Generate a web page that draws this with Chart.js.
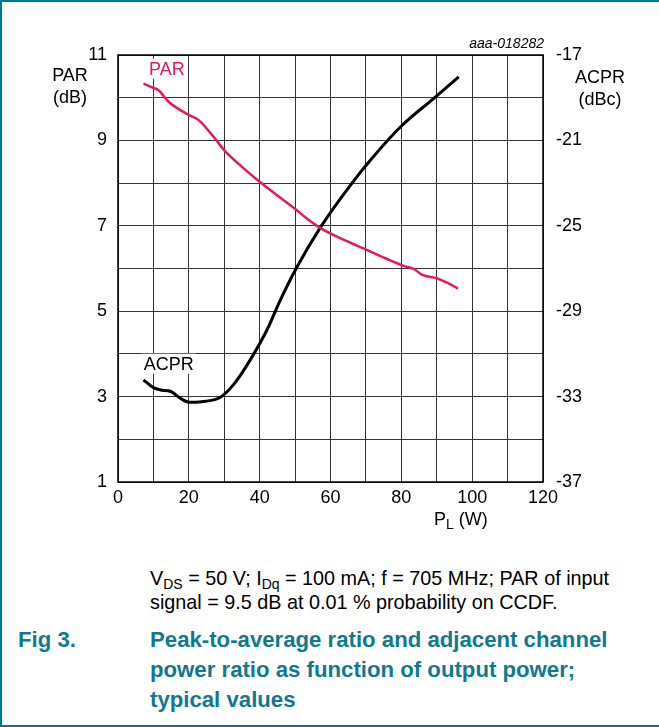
<!DOCTYPE html>
<html>
<head>
<meta charset="utf-8">
<script src="https://cdn.jsdelivr.net/npm/chart.js@4.4.1/dist/chart.umd.min.js"></script>
<style>
  html, body { margin: 0; padding: 0; background: #fff; }
  #frame {
    position: relative; width: 657px; height: 723px;
    border-top: 2px solid #00798f; border-left: 2px solid #00798f; border-bottom: 2px solid #00798f;
    font-family: "Liberation Sans", Arial, sans-serif; color: #000; overflow: hidden;
  }
  #wrap { position: absolute; left: -2px; top: -2px; width: 659px; height: 545px; }
  .t { position: absolute; white-space: nowrap; }
  .ax { font-size: 18px; text-align: center; line-height: 22px; }
  .cap { font-size: 19.8px; line-height: 24px; }
  .fig { font-size: 22.2px; font-weight: bold; color: #0f7a8c; line-height: 30px; }
  sub { font-size: 14px; vertical-align: -4px; line-height: 0; }
</style>
</head>
<body>
<div id="frame">
  <div id="wrap"><canvas id="c" width="659" height="545"></canvas></div>
  <div class="t ax" style="left:46px; top:62px; width:44px;">PAR<br>(dB)</div>
  <div class="t ax" style="left:568px; top:64px; width:60px;">ACPR<br>(dBc)</div>
  <div class="t ax" style="left:432px; top:506px;">P<sub>L</sub> (W)</div>
  <div class="t" style="right:115px; top:33px; font-size:14px; font-style:italic;">aaa-018282</div>
  <div class="t cap" style="left:148px; top:564px;">V<sub>DS</sub> = 50 V; I<sub>Dq</sub> = 100 mA; f = 705 MHz; PAR of input<br>signal = 9.5 dB at 0.01 % probability on CCDF.</div>
  <div class="t fig" style="left:16px; top:623px;">Fig 3.</div>
  <div class="t fig" style="left:148px; top:623px;">Peak-to-average ratio and adjacent channel<br>power ratio as function of output power;<br>typical values</div>
</div>
<script>
// PAR (dB) vs P_L (W), trục trái
const parX = [7.2, 10, 11.4, 14.2, 19.9, 22.7, 27.3, 30.1, 35, 40, 45, 49.8, 53.5, 57.3, 63.5, 70.4, 75.5, 80.7, 83.5, 85.9, 90.1, 92.9, 96];
const parY = [10.33, 10.23, 10.18, 9.91, 9.6, 9.48, 9.05, 8.76, 8.38, 8.03, 7.71, 7.41, 7.16, 6.94, 6.68, 6.43, 6.24, 6.06, 5.99, 5.85, 5.77, 5.67, 5.53];
// ACPR (dBc) vs P_L (W), trục phải
const acprX = [7.2, 10, 12.4, 14.7, 18, 20.3, 23.6, 27.3, 29.2, 32.9, 37.6, 42.3, 45.6, 50.3, 57.3, 65.7, 71.3, 79.8, 89.1, 96.2];
const acprY = [-32.22, -32.58, -32.7, -32.75, -33.12, -33.27, -33.24, -33.14, -33.0, -32.38, -31.21, -29.8, -28.56, -27.0, -25.04, -23.08, -21.92, -20.36, -19.04, -18.02];

const xTicks = [0, 20, 40, 60, 80, 100, 120];
const leftTicks = [11, 9, 7, 5, 3, 1];
const rightTicks = [-17, -21, -25, -29, -33, -37];

// nhãn đường cong (toạ độ dữ liệu trên trục trái)
const curveLabels = [
  { text: "PAR", x: 13.8, y: 10.68, color: "#e8175d" },
  { text: "ACPR", x: 14.3, y: 3.77, color: "#000" }
];

const labelPlugin = {
  id: "curveLabels",
  afterDatasetsDraw(chart) {
    const { ctx, scales } = chart;
    ctx.save();
    ctx.font = "18px 'Liberation Sans', Arial, sans-serif";
    ctx.textAlign = "center";
    ctx.textBaseline = "middle";
    curveLabels.forEach(l => {
      const px = scales.x.getPixelForValue(l.x);
      const py = scales.yPar.getPixelForValue(l.y);
      const w = ctx.measureText(l.text).width;
      ctx.fillStyle = "#fff";
      ctx.fillRect(px - w / 2 - 2, py - 10, w + 4, 20);
      ctx.fillStyle = l.color;
      ctx.fillText(l.text, px, py + 1);
    });
    ctx.restore();
  }
};

const borderPlugin = {
  id: "plotBorder",
  afterDatasetsDraw(chart) {
    const { ctx, chartArea: a } = chart;
    ctx.save();
    ctx.strokeStyle = "#000";
    ctx.lineWidth = 1.5;
    ctx.strokeRect(a.left, a.top, a.right - a.left, a.bottom - a.top);
    ctx.restore();
  }
};

const font = { family: "'Liberation Sans', Arial, sans-serif", size: 18 };
const gridColor = "#333";

new Chart(document.getElementById("c"), {
  type: "scatter",
  data: {
    datasets: [
      {
        label: "PAR",
        data: parX.map((x, i) => ({ x, y: parY[i] })),
        yAxisID: "yPar",
        showLine: true,
        borderColor: "#e8175d",
        borderWidth: 2.5,
        pointRadius: 0,
        cubicInterpolationMode: "monotone"
      },
      {
        label: "ACPR",
        data: acprX.map((x, i) => ({ x, y: acprY[i] })),
        yAxisID: "yAcpr",
        showLine: true,
        borderColor: "#000",
        borderWidth: 3,
        pointRadius: 0,
        cubicInterpolationMode: "monotone"
      }
    ]
  },
  options: {
    responsive: false,
    animation: false,
    layout: { padding: { top: 55, left: 0, right: 0, bottom: 0 } },
    plugins: { legend: { display: false }, tooltip: { enabled: false } },
    scales: {
      x: {
        type: "linear", min: 0, max: 120,
        ticks: {
          stepSize: 10, color: "#000", font, padding: 5, maxRotation: 0,
          callback: v => (xTicks.includes(v) ? v : "")
        },
        grid: { color: gridColor, lineWidth: 1, drawTicks: false },
        border: { display: false },
        afterFit: s => { s.height = 63; }
      },
      yPar: {
        type: "linear", position: "left", min: 1, max: 11,
        ticks: {
          stepSize: 1, color: "#000", font, padding: 11,
          callback: v => (leftTicks.includes(v) ? v : "")
        },
        grid: { color: gridColor, lineWidth: 1, drawTicks: false },
        border: { display: false },
        afterFit: s => { s.width = 118; }
      },
      yAcpr: {
        type: "linear", position: "right", min: -37, max: -17,
        ticks: {
          stepSize: 2, color: "#000", font, padding: 5,
          callback: v => (rightTicks.includes(v) ? v : "")
        },
        grid: { display: false },
        border: { display: false },
        afterFit: s => { s.width = 116; }
      }
    }
  },
  plugins: [labelPlugin, borderPlugin]
});
</script>
</body>
</html>
